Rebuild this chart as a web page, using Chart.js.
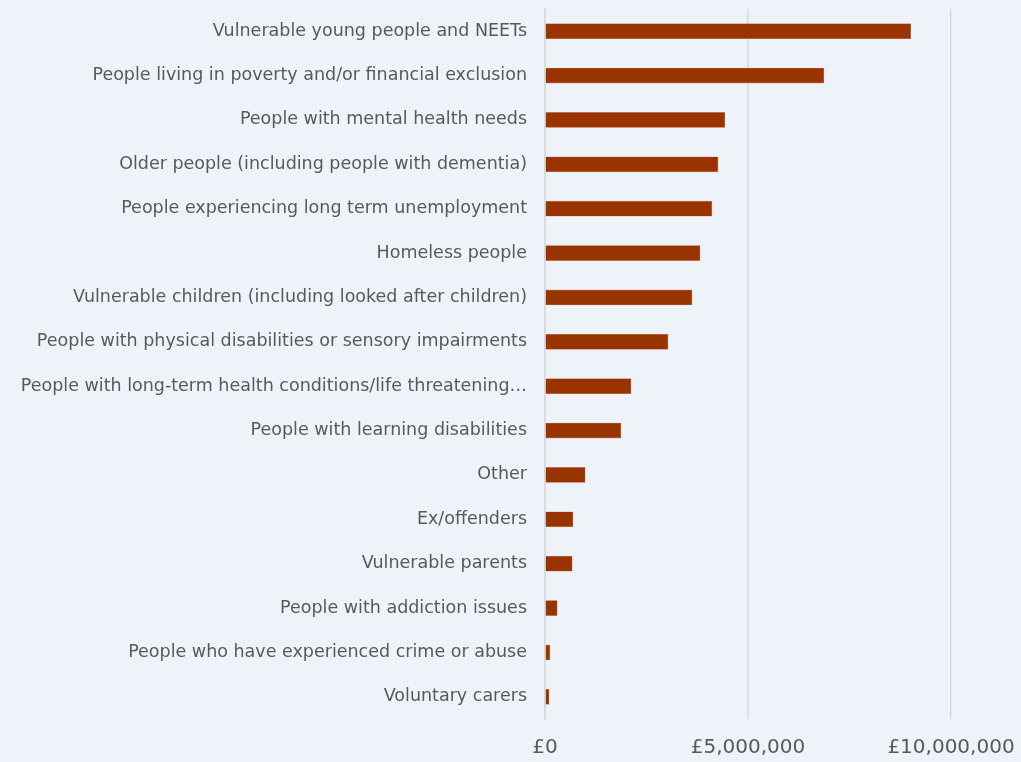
<!DOCTYPE html>
<html>
<head>
<meta charset="utf-8">
<script src="https://cdn.jsdelivr.net/npm/chart.js@4"></script>
<style>
  html, body { margin: 0; padding: 0; background: #eef2f9; }
  #wrap { width: 1021px; height: 762px; }
</style>
</head>
<body>
<div id="wrap"><canvas id="c" width="1021" height="762"></canvas></div>
<script>
const categories = [
  "Vulnerable young people and NEETs",
  "People living in poverty and/or financial exclusion",
  "People with mental health needs",
  "Older people (including people with dementia)",
  "People experiencing long term unemployment",
  "Homeless people",
  "Vulnerable children (including looked after children)",
  "People with physical disabilities or sensory impairments",
  "People with long-term health conditions/life threatening\u2026",
  "People with learning disabilities",
  "Other",
  "Ex/offenders",
  "Vulnerable parents",
  "People with addiction issues",
  "People who have experienced crime or abuse",
  "Voluntary carers"
];
const fundingValues = [
  9010000, 6870000, 4430000, 4260000, 4110000, 3820000, 3620000, 3030000,
  2120000, 1870000, 990000, 690000, 670000, 300000, 120000, 100000
];
const tickValues = [0, 5000000, 10000000];

const bgPlugin = {
  id: 'bg',
  beforeDraw(chart) {
    const ctx = chart.ctx;
    ctx.save();
    ctx.fillStyle = '#eef2f9';
    ctx.fillRect(0, 0, chart.width, chart.height);
    ctx.restore();
  }
};

new Chart(document.getElementById('c'), {
  type: 'bar',
  data: {
    labels: categories,
    datasets: [{
      data: fundingValues,
      backgroundColor: '#993300',
      borderColor: '#c98a6c',
      borderWidth: 0.6,
      borderSkipped: 'start',
      barThickness: 15
    }]
  },
  options: {
    indexAxis: 'y',
    responsive: false,
    animation: false,
    layout: { padding: { top: 9, right: 70, bottom: 2, left: 0 } },
    plugins: { legend: { display: false }, tooltip: { enabled: false } },
    scales: {
      x: {
        min: 0,
        max: 10000000,
        afterBuildTicks(scale) { scale.ticks = tickValues.map(v => ({ value: v })); },
        afterFit(scale) { scale.paddingLeft = 0; scale.paddingRight = 0; scale.height = 41; },
        grid: { color: '#d6d8dc', lineWidth: 1.5, drawTicks: false },
        border: { display: false },
        ticks: {
          padding: 17,
          color: '#595959',
          font: { family: "'DejaVu Sans', sans-serif", size: 20 },
          callback: v => '\u00a3' + Number(v).toLocaleString('en-GB')
        }
      },
      y: {
        grid: { display: false, drawTicks: false },
        border: { display: true, color: '#d6d8dc', width: 1.5 },
        afterFit(scale) { scale.width = 545; scale.paddingTop = 0; scale.paddingBottom = 0; },
        ticks: {
          padding: 18,
          color: '#595959',
          font: { family: "'DejaVu Sans', sans-serif", size: 17.5 }
        }
      }
    }
  },
  plugins: [bgPlugin]
});
</script>
</body>
</html>
